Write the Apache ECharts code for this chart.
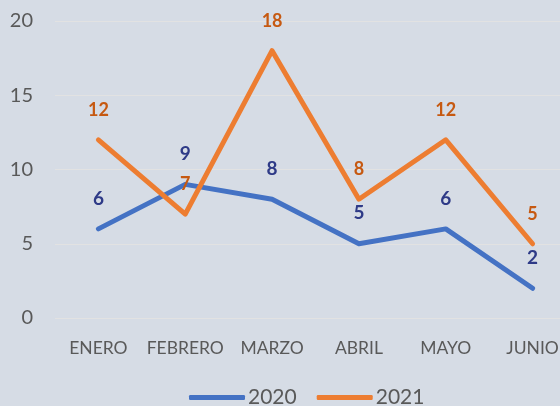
<!DOCTYPE html>
<html>
<head>
    <meta charset="utf-8">
    <title>2020 vs 2021</title>
    <script src="https://cdn.jsdelivr.net/npm/echarts@6/dist/echarts.min.js"></script>
    <style>
        html, body { margin: 0; padding: 0; background: #d6dce5; }
        #main { width: 560px; height: 406px; }
    </style>
</head>
<body>
<div id="main"></div>
<script type="text/javascript">
    var meses = ['ENERO', 'FEBRERO', 'MARZO', 'ABRIL', 'MAYO', 'JUNIO'];
    var datos2020 = [6, 9, 8, 5, 6, 2];
    var datos2021 = [12, 7, 18, 8, 12, 5];

    var myChart = echarts.init(document.getElementById('main'));
    var fuente = 'Lato, "Open Sans", sans-serif';

    var option = {
        animation: false,
        backgroundColor: '#d6dce5',
        color: ['#4472c4', '#ed7d31'],
        textStyle: {fontFamily: fuente},
        grid: {left: 55, width: 521, top: 21, bottom: 88, outerBoundsMode: 'none', containLabel: false},
        legend: {
            data: ['2020', '2021'],
            bottom: -7,
            left: 184,
            itemWidth: 56,
            itemHeight: 5,
            itemGap: 20,
            icon: 'roundRect',
            itemStyle: {opacity: 1},
            textStyle: {fontSize: 21, color: '#595959', fontFamily: fuente, padding: [0, 0, 0, -2]}
        },
        xAxis: {
            type: 'category',
            data: meses,
            axisLine: {show: false},
            axisTick: {show: false},
            axisLabel: {interval: 0, fontSize: 17.5, color: '#595959', margin: 21, fontFamily: fuente}
        },
        yAxis: {
            type: 'value',
            min: 0,
            max: 20,
            interval: 5,
            axisLabel: {fontSize: 20, color: '#595959', margin: 22, fontFamily: fuente},
            splitLine: {lineStyle: {color: '#e2e2e2', width: 1}}
        },
        series: [
            {
                name: '2020',
                type: 'line',
                data: datos2020,
                symbol: 'circle',
                symbolSize: 2,
                showSymbol: true,
                itemStyle: {color: '#4472c4'},
                lineStyle: {width: 5, cap: 'round', join: 'round'},
                label: {
                    show: true, position: 'top', distance: 20,
                    fontSize: 19, fontWeight: 'bold', color: '#2e3a87', fontFamily: fuente
                }
            },
            {
                name: '2021',
                type: 'line',
                data: datos2021,
                symbol: 'circle',
                symbolSize: 2,
                showSymbol: true,
                itemStyle: {color: '#ed7d31'},
                lineStyle: {width: 5, cap: 'round', join: 'round'},
                label: {
                    show: true, position: 'top', distance: 20,
                    fontSize: 18, fontWeight: 'bold', color: '#c65911', fontFamily: fuente
                }
            }
        ]
    };
    myChart.setOption(option);
</script>
</body>
</html>
